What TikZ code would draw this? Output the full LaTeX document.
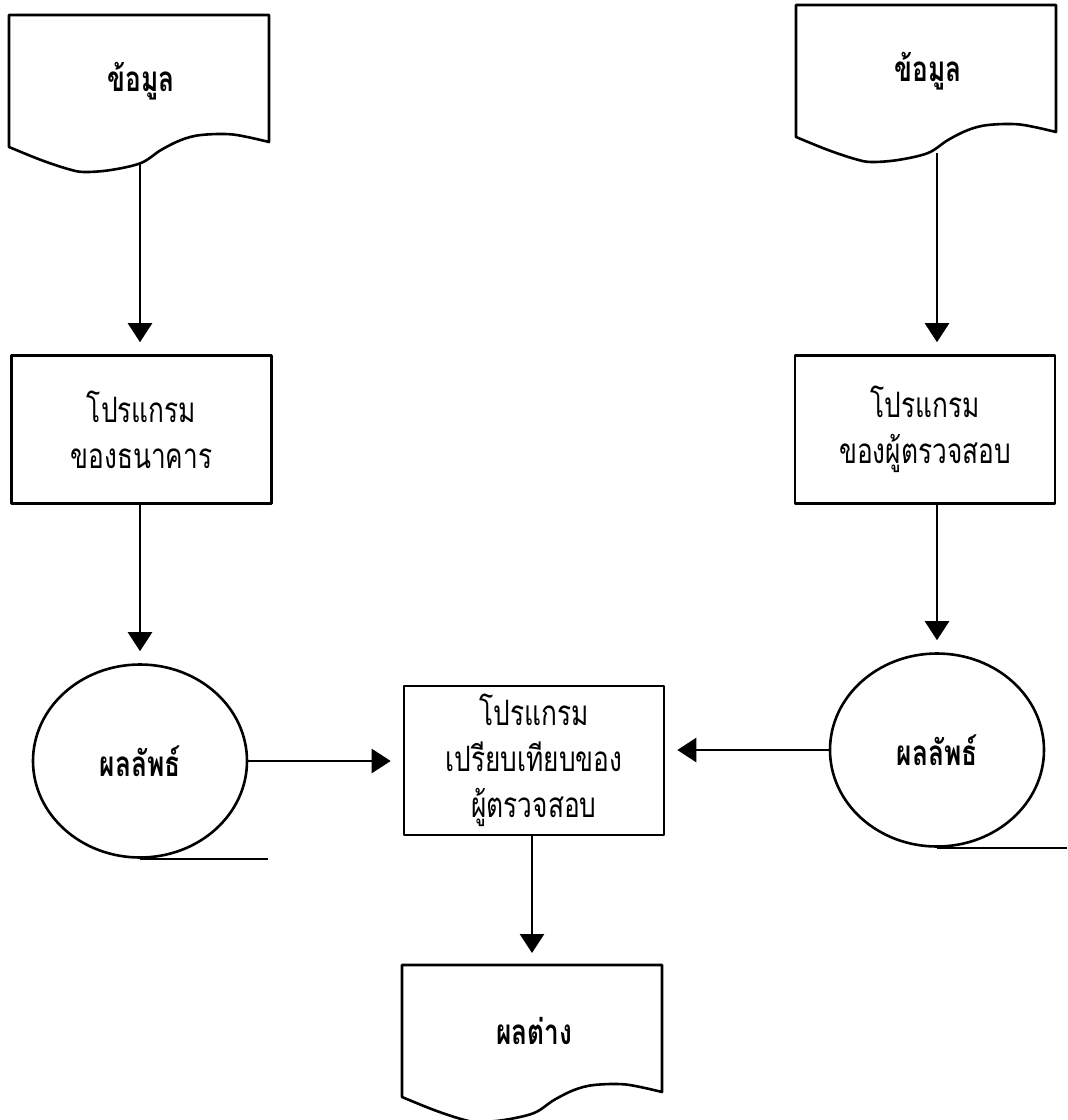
\documentclass[tikz,border=0pt]{standalone}
\usepackage{fontspec}
\usetikzlibrary{arrows.meta,shapes.geometric,calc}
\newfontfamily\thaifont[Script=Thai,FakeStretch=0.75]{Loma}
\begin{document}
\begin{tikzpicture}[x=1pt,y=-1pt,
  stroke/.style={line width=2.6pt,line join=round},
  lbl/.style={font=\thaifont\fontsize{35}{46}\selectfont, align=center, inner sep=0pt},
  boldlbl/.style={lbl, font=\thaifont\bfseries\fontsize{35}{46}\selectfont},
  procbox/.style={stroke, draw, minimum width=260pt, minimum height=148pt, lbl},
  tape/.style={stroke, draw, ellipse, minimum width=214pt, minimum height=193pt, boldlbl},
  flow/.style={stroke, -{Triangle[width=24pt,length=19pt]}, shorten >=12pt},
  pics/docshape/.style={code={
    \draw[stroke] (0,0) -- (260,0) -- (260,127)
      -- plot[smooth, tension=0.55] coordinates {(260,127) (224,119.5) (192,120)
         (172,125) (152,135) (132,148) (102,155) (75,157) (59,154) (32,145) (0,132)}
      -- cycle;
    \node[boldlbl] (-txt) at (132,66) {#1};
    \coordinate (-in) at (130,0);
    \coordinate (-out) at (131,148);
  }}
]
\useasboundingbox (0,0) rectangle (1068,1120);

% documents
\pic (docL) at (9,15) {docshape=ข้อมูล};
\pic (docR) at (796,5) {docshape=ข้อมูล};
\pic (docB) at (402,965) {docshape=ผลต่าง};

% programs
\node[procbox] (boxL) at (141.5,429.5) {โปรแกรม\\ของธนาคาร};
\node[procbox] (boxR) at (925,429.5) {โปรแกรม\\ของผู้ตรวจสอบ};
\node[procbox, minimum height=149pt] (boxM) at (534,760.5) {โปรแกรม\\เปรียบเทียบของ\\ผู้ตรวจสอบ};

% result tapes
\node[tape] (ellL) at (140,761) {ผลลัพธ์};
\node[tape] (ellR) at (937,750) {ผลลัพธ์};
\draw[stroke] (ellL.south) -- ++(128,0);
\draw[stroke] (ellR.south) -- ++(130,0);

% flows
\draw[flow] (docL-out) -- (docL-out |- boxL.north);
\draw[flow] (boxL.south -| ellL) -- (ellL.north);
\draw[flow] (docR-out -| ellR) -- (boxR.north -| ellR);
\draw[flow] (boxR.south -| ellR) -- (ellR.north);
\draw[flow] (ellL.east) -- (ellL.east -| boxM.west);
\draw[flow] (ellR.west) -- (ellR.west -| boxM.east);
\draw[flow] (boxM.south -| docB-in) -- (docB-in);
\end{tikzpicture}
\end{document}
